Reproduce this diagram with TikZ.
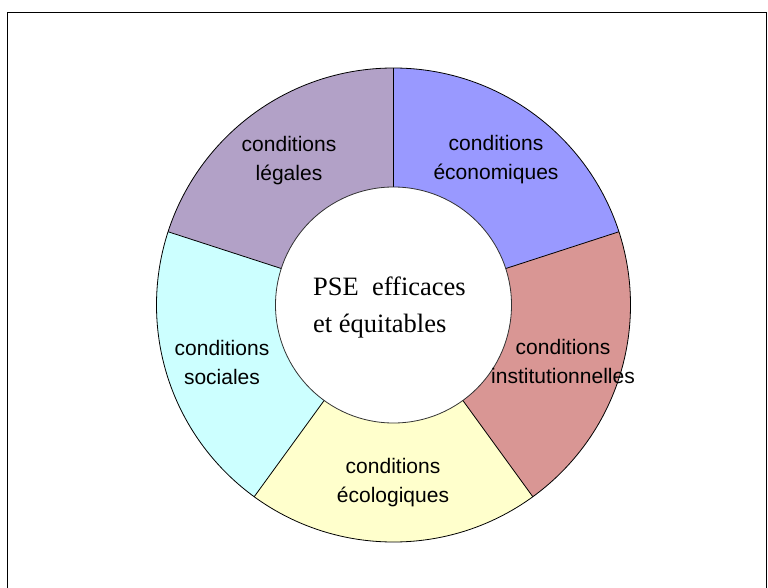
\documentclass[tikz,border=0pt]{standalone}
\usepackage{fontspec}
\setmainfont{Liberation Serif}
\newfontfamily\arialf{Liberation Sans}
\definecolor{cEco}{HTML}{9999FF}
\definecolor{cLeg}{HTML}{B2A1C7}
\definecolor{cSoc}{HTML}{CCFFFF}
\definecolor{cEcol}{HTML}{FFFFCC}
\definecolor{cInst}{HTML}{D99694}
\tikzset{
  lbl/.style={align=center, inner sep=0pt, text=black, font=\arialf\fontsize{21}{29}\selectfont},
  segline/.style={draw=black, line width=0.8pt},
}
\newcommand{\donutseg}[3]{% start, end, colour
  \fill[#3] (#1:237) arc[start angle=#1, end angle=#2, radius=237] -- (#2:118) arc[start angle=#2, end angle=#1, radius=118] -- cycle;
}
\begin{document}
\begin{tikzpicture}[x=1pt,y=1pt]
\useasboundingbox (0,0) rectangle (768,587);
\fill[white] (0,0) rectangle (768,587);
\draw[black, line width=1pt] (7.5,-5) -- (7.5,574) -- (766,574) -- (766,-5);
\begin{scope}[shift={(393.5,282)}]
  \donutseg{18}{90}{cEco}
  \donutseg{90}{162}{cLeg}
  \donutseg{162}{234}{cSoc}
  \donutseg{234}{306}{cEcol}
  \donutseg{306}{378}{cInst}
  \foreach \a in {18,90,162,234,306} {
    \draw[segline] (\a:118) -- (\a:237);
  }
  \draw[segline] (0,0) circle[radius=237];
  \draw[draw=black!80, line width=0.8pt] (0,0) circle[radius=118];
  \coordinate (C) at (0,0);
\end{scope}
\node[lbl] (leg) at (289,426) {conditions\\légales};
\node[lbl] (eco) at (496,427) {conditions\\économiques};
\node[lbl] (inst) at (563,226) {conditions\\institutionnelles};
\node[lbl] (soc) at (222,225) {conditions\\sociales};
\node[lbl] (ecol) at (393,104) {conditions\\écologiques};
\node[align=left, inner sep=0pt, anchor=west, font=\fontsize{26.5}{37}\selectfont] (pse) at (313,279.6) {PSE\ \ efficaces\\et équitables};
\end{tikzpicture}
\end{document}
